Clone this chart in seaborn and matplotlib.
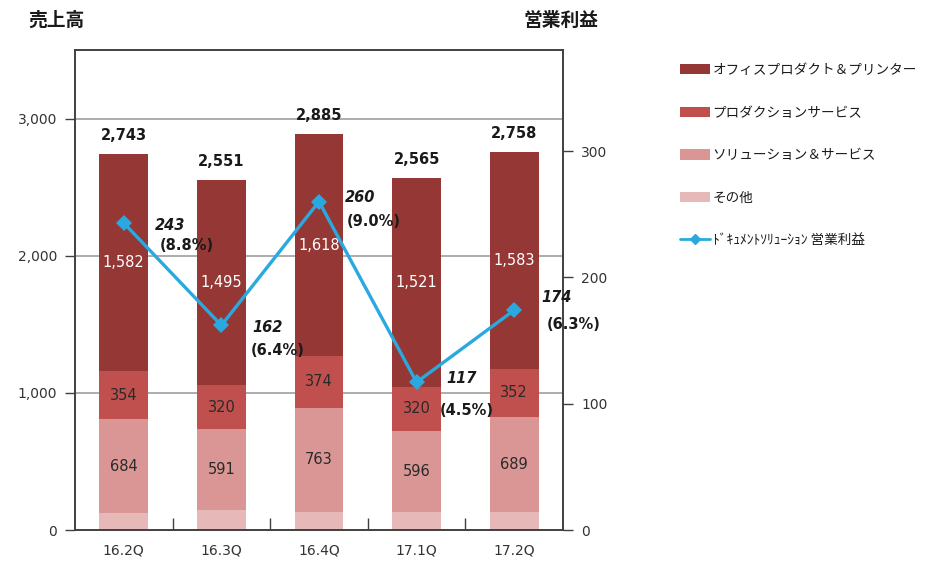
import numpy as np
import pandas as pd
import matplotlib
matplotlib.use("Agg")
import matplotlib.pyplot as plt
from matplotlib.patches import Patch
from matplotlib.lines import Line2D
from matplotlib.ticker import FixedLocator, FuncFormatter
import seaborn as sns

# Quarterly figures (sales by segment, operating profit)
quarters = ["16.2Q", "16.3Q", "16.4Q", "17.1Q", "17.2Q"]
office = [1582, 1495, 1618, 1521, 1583]
production = [354, 320, 374, 320, 352]
solutions = [684, 591, 763, 596, 689]
other = [123, 145, 130, 128, 134]
totals = [2743, 2551, 2885, 2565, 2758]
profit = [243, 162, 260, 117, 174]
margin = [8.8, 6.4, 9.0, 4.5, 6.3]

seg_names = ["オフィスプロダクト＆プリンター", "プロダクションサービス", "ソリューション＆サービス", "その他"]
line_name = "ﾄﾞｷｭﾒﾝﾄｿﾘｭｰｼｮﾝ 営業利益"
left_title = "売上高"
right_title = "営業利益"

colors = {"office": "#953735", "production": "#C0504D", "solutions": "#D99694", "other": "#E6B9B8"}
line_color = "#2AA9E0"

sns.set_theme(style="white")
plt.rcParams["font.family"] = ["DejaVu Sans", "Noto Sans CJK JP"]
jp_font = ["Noto Sans CJK JP", "DejaVu Sans"]

df = pd.DataFrame({"quarter": quarters, "office": office, "production": production,
                   "solutions": solutions, "other": other})
df["c_other"] = df["other"]
df["c_solutions"] = df["c_other"] + df["solutions"]
df["c_production"] = df["c_solutions"] + df["production"]
df["c_office"] = df["c_production"] + df["office"]

fig = plt.figure(figsize=(9.3, 5.64), dpi=100)
ax = fig.add_axes([75 / 930, 1 - 530 / 564, 488 / 930, 480 / 564])

# stacked bars: draw cumulative heights from the tallest layer down
for key in ["office", "production", "solutions", "other"]:
    sns.barplot(data=df, x="quarter", y="c_" + key, color=colors[key], width=0.5,
                saturation=1, linewidth=0, edgecolor="none", ax=ax, zorder=2)

ax.set_ylim(0, 3500)
ax.set_xlim(-0.5, 4.5)
ax.yaxis.set_major_locator(FixedLocator([0, 1000, 2000, 3000]))
ax.yaxis.set_major_formatter(FuncFormatter(lambda v, p: f"{int(v):,}"))
for v in [1000, 2000, 3000]:
    ax.axhline(v, color="#A6A6A6", lw=1.3, zorder=1)
ax.set_xlabel("")
ax.set_ylabel("")
ax.tick_params(axis="y", direction="out", length=7, width=1, color="#404040",
               labelsize=10, colors="#404040", pad=6, left=True)
ax.tick_params(axis="y", labelcolor="#333333")
ax.tick_params(axis="x", length=0, labelsize=10, labelcolor="#333333", pad=10)
ax.set_xticks(range(len(quarters)))
ax.set_xticklabels(quarters)
ax.xaxis.set_minor_locator(FixedLocator([0.5, 1.5, 2.5, 3.5]))
ax.tick_params(axis="x", which="minor", direction="in", length=9, width=1,
               color="#404040", bottom=True)
for s in ax.spines.values():
    s.set_color("#404040")
    s.set_linewidth(1.2)

# value labels on the bars
for i in range(len(quarters)):
    ax.text(i, totals[i] + 135, f"{totals[i]:,}", ha="center", va="center",
            fontsize=10.5, fontweight="bold", color="#1a1a1a", zorder=5)
    ax.text(i, df["c_production"][i] + office[i] / 2, f"{office[i]:,}", ha="center",
            va="center", fontsize=10.5, color="white", zorder=5)
    ax.text(i, df["c_solutions"][i] + production[i] / 2, f"{production[i]:,}", ha="center",
            va="center", fontsize=10.5, color="#2a2a2a", zorder=5)
    ax.text(i, df["c_other"][i] + solutions[i] / 2, f"{solutions[i]:,}", ha="center",
            va="center", fontsize=10.5, color="#2a2a2a", zorder=5)

# operating profit on the right-hand axis
ax2 = ax.twinx()
sns.lineplot(x=np.arange(len(quarters)), y=profit, ax=ax2, color=line_color, lw=2.4,
             marker="D", markersize=8, markeredgewidth=0, zorder=4)
ax2.set_ylim(0, 380)
ax2.set_xlim(-0.5, 4.5)
ax2.yaxis.set_major_locator(FixedLocator([0, 100, 200, 300]))
ax2.tick_params(axis="y", direction="out", length=7, width=1, color="#404040",
                labelsize=10, labelcolor="#333333", pad=6, right=True)
ax2.set_ylabel("")
for s in ax2.spines.values():
    s.set_color("#404040")
    s.set_linewidth(1.2)

num_offsets = [(46, -2), (46, -2), (41, 4), (45, 4), (42, 13)]
pct_offsets = [(63, -22), (56, -25), (55, -20), (50, -28), (59, -14)]
for i in range(len(quarters)):
    ax2.annotate(f"{profit[i]}", (i, profit[i]), xytext=num_offsets[i],
                 textcoords="offset pixels", ha="center", va="center", fontsize=10.5,
                 fontweight="bold", fontstyle="italic", color="#1a1a1a", zorder=6)
    ax2.annotate(f"({margin[i]:.1f}%)", (i, profit[i]), xytext=pct_offsets[i],
                 textcoords="offset pixels", ha="center", va="center", fontsize=10.5,
                 fontweight="bold", color="#1a1a1a", zorder=6)

fig.text(28 / 930, 1 - 20 / 564, left_title, family=jp_font, fontsize=13.5,
         fontweight="bold", ha="left", va="center", color="#1a1a1a")
fig.text(598 / 930, 1 - 20 / 564, right_title, family=jp_font, fontsize=13.5,
         fontweight="bold", ha="right", va="center", color="#1a1a1a")

handles = [Patch(facecolor=colors[k], edgecolor="none")
           for k in ["office", "production", "solutions", "other"]]
handles.append(Line2D([0], [0], color=line_color, lw=2, marker="D", markersize=5))
leg = fig.legend(handles, seg_names + [line_name], loc="upper left",
                 bbox_to_anchor=(680 / 930, 1 - 63 / 564), frameon=False,
                 prop={"family": jp_font, "size": 9.8}, handlelength=2.2,
                 handleheight=0.8, handletextpad=0.2, labelspacing=2.1,
                 borderaxespad=0, borderpad=0)
for t in leg.get_texts():
    t.set_color("#1a1a1a")

fig.savefig("out.png", dpi=100)
